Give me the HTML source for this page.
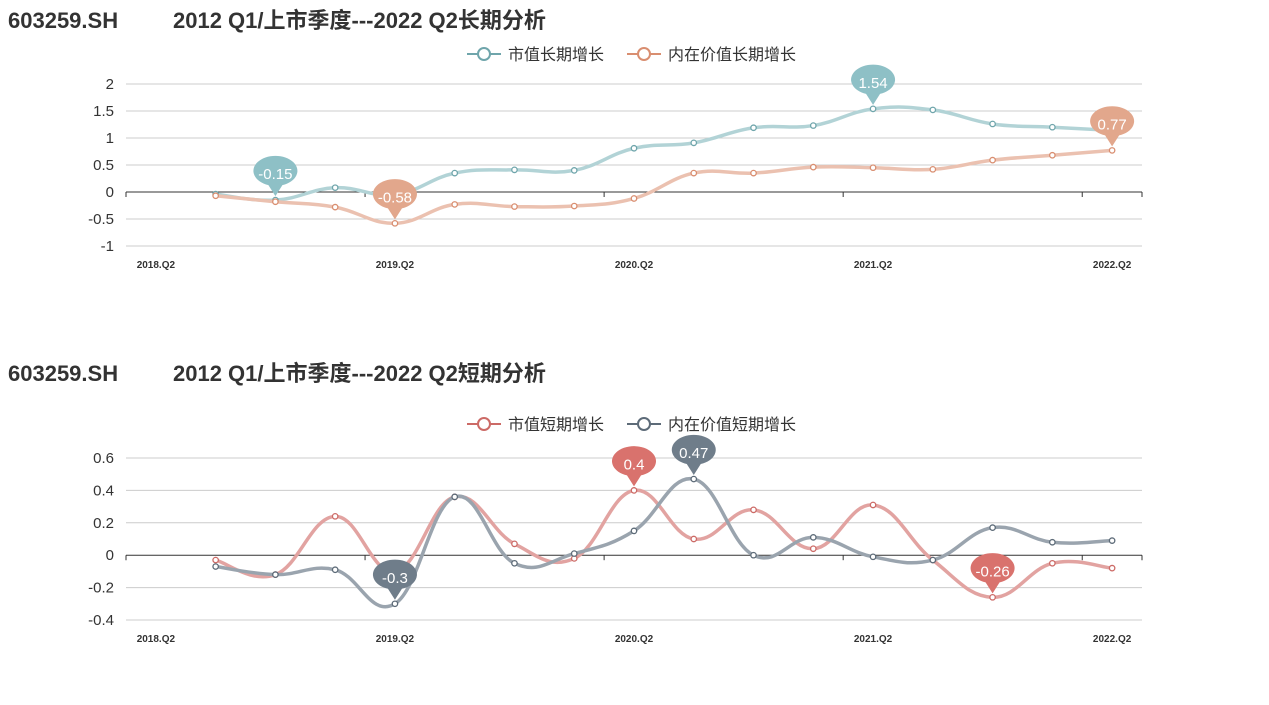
<!DOCTYPE html><html><head><meta charset="utf-8"><style>
body{margin:0;background:#fff;width:1269px;height:705px;overflow:hidden;font-family:"Liberation Sans","Noto Sans CJK SC",sans-serif}
svg{position:absolute;left:0;top:0}
</style></head><body>
<svg id="s" width="1269" height="705" xmlns="http://www.w3.org/2000/svg" font-family="Liberation Sans, Noto Sans CJK SC, sans-serif">
<text x="8" y="28" font-size="22" font-weight="bold" fill="#333">603259.SH</text>
<text x="173" y="28" font-size="22" font-weight="bold" fill="#333">2012 Q1/上市季度---2022 Q2长期分析</text>
<text x="8" y="381" font-size="22" font-weight="bold" fill="#333">603259.SH</text>
<text x="173" y="381" font-size="22" font-weight="bold" fill="#333">2012 Q1/上市季度---2022 Q2短期分析</text>
</svg>
<script>
const s=document.getElementById('s');let h='';
const X0=126,W=(1142-126)/17;const cx=i=>X0+W*(i+0.5);
function path(pts){let d='M'+pts[0][0]+','+pts[0][1];for(let i=0;i<pts.length-1;i++){const p0=pts[i-1]||pts[i],p1=pts[i],p2=pts[i+1],p3=pts[i+2]||p2;const t=0.2;d+=` C${p1[0]+(p2[0]-p0[0])*t},${p1[1]+(p2[1]-p0[1])*t} ${p2[0]-(p3[0]-p1[0])*t},${p2[1]-(p3[1]-p1[1])*t} ${p2[0]},${p2[1]}`;}return d;}
function pin(x,y,c,t){h+=`<path d="M${x},${y-4} L${x-7},${y-15} A22,15 0 1 1 ${x+7},${y-15} Z" fill="${c}"/><text x="${x}" y="${y-21}" text-anchor="middle" font-size="15" fill="#fff">${t}</text>`;}
function chart(o){
 const {top,bot,min,max,step}=o;const Y=v=>bot-(v-min)/(max-min)*(bot-top);
 for(let v=min;v<=max+1e-9;v+=step){const y=Y(v);const z=Math.abs(v)<1e-9;
  h+=`<line x1="126" x2="1142" y1="${y}" y2="${y}" stroke="${z?'#333':'#ccc'}" stroke-width="1"/>`;
  h+=`<text x="114" y="${y+5}" text-anchor="end" font-size="15" fill="#333">${+v.toFixed(2)}</text>`;}
 const y0=Y(0);[0,4,8,12,16,17].forEach(k=>{const x=X0+W*k;h+=`<line x1="${x}" x2="${x}" y1="${y0}" y2="${y0+5}" stroke="#333"/>`;});
 ['2018.Q2','2019.Q2','2020.Q2','2021.Q2','2022.Q2'].forEach((l,k)=>h+=`<text x="${cx(k*4)}" y="${bot+22}" text-anchor="middle" font-size="10" font-weight="bold" fill="#333">${l}</text>`);
 o.series.forEach(se=>{const pts=se.d.map((v,i)=>[cx(i+1),Y(v)]);
  h+=`<path d="${path(pts)}" fill="none" stroke="${se.lc}" stroke-width="3.5"/>`;
  pts.forEach(p=>h+=`<circle cx="${p[0]}" cy="${p[1]}" r="2.7" fill="#fff" stroke="${se.mc}" stroke-width="1.3"/>`);});
 o.series.forEach(se=>se.pins.forEach(i=>pin(cx(i+1),Y(se.d[i]),se.pc,se.d[i])));
 let lx=467;o.series.forEach(se=>{h+=`<line x1="${lx}" x2="${lx+34}" y1="${o.ly}" y2="${o.ly}" stroke="${se.mc}" stroke-width="2"/><circle cx="${lx+17}" cy="${o.ly}" r="6" fill="#fff" stroke="${se.mc}" stroke-width="2"/><text x="${lx+41}" y="${o.ly+6}" font-size="16" fill="#333">${se.n}</text>`;lx+=se.w;});
}
chart({top:84,bot:246,min:-1,max:2,step:0.5,ly:54,series:[
 {n:'市值长期增长',w:160,lc:'#b2d3d6',mc:'#6fa5ab',pc:'#8ec0c6',d:[-0.04,-0.15,0.08,-0.05,0.35,0.41,0.40,0.81,0.91,1.19,1.23,1.54,1.52,1.26,1.20,1.14],pins:[1,11]},
 {n:'内在价值长期增长',w:160,lc:'#ebc1b0',mc:'#d98e70',pc:'#e2a78c',d:[-0.07,-0.18,-0.28,-0.58,-0.23,-0.27,-0.26,-0.12,0.35,0.35,0.46,0.45,0.42,0.59,0.68,0.77],pins:[3,15]}]});
chart({top:458,bot:620,min:-0.4,max:0.6,step:0.2,ly:424,series:[
 {n:'市值短期增长',w:160,lc:'#e2a3a1',mc:'#cc6a66',pc:'#d9726d',d:[-0.03,-0.12,0.24,-0.1,0.36,0.07,-0.02,0.40,0.10,0.28,0.04,0.31,-0.03,-0.26,-0.05,-0.08],pins:[7,13]},
 {n:'内在价值短期增长',w:160,lc:'#9aa4ae',mc:'#5d6b78',pc:'#6f7d8a',d:[-0.07,-0.12,-0.09,-0.30,0.36,-0.05,0.01,0.15,0.47,0.00,0.11,-0.01,-0.03,0.17,0.08,0.09],pins:[3,8]}]});
s.insertAdjacentHTML('beforeend',h);
</script>
</body></html>
